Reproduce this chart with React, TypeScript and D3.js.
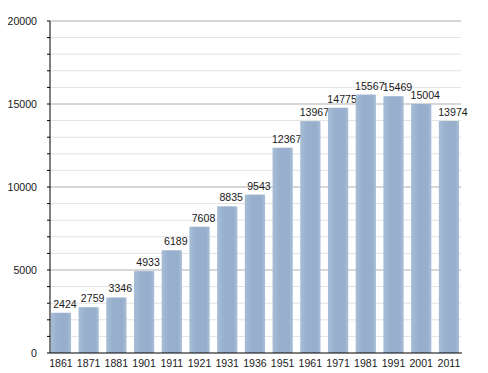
import React from "react";
import * as d3 from "d3";

const years = ["1861", "1871", "1881", "1901", "1911", "1921", "1931", "1936", "1951", "1961", "1971", "1981", "1991", "2001", "2011"];
const population = [2424, 2759, 3346, 4933, 6189, 7608, 8835, 9543, 12367, 13967, 14775, 15567, 15469, 15004, 13974];
const yTicks = [0, 5000, 10000, 15000, 20000];

const W = 488;
const H = 373;
const left = 50;
const right = 461;
const top = 21;
const bottom = 353;

const App = () => {
  const x = d3
    .scaleBand()
    .domain(years)
    .range([left, right])
    .paddingInner(0.27)
    .paddingOuter(0.05)
    .align(0.3);
  const y = d3.scaleLinear().domain([0, 20000]).range([bottom, top]);
  const minor = d3.range(0, 20001, 1000);
  const font = "'Liberation Sans', Arial, sans-serif";

  return (
    <svg width={W} height={H} style={{ position: "absolute", left: 0, top: 0 }}>
      <defs>
        <linearGradient id="barGrad" x1="0" x2="1" y1="0" y2="0">
          <stop offset="0" stopColor="#a7bdd7" />
          <stop offset="0.35" stopColor="#98b0cd" />
          <stop offset="0.8" stopColor="#97afcc" />
          <stop offset="1" stopColor="#a9bed8" />
        </linearGradient>
      </defs>
      <rect width={W} height={H} fill="#fff" />
      {/* minor grid */}
      {minor
        .filter((v) => v % 5000 !== 0)
        .map((v) => (
          <line key={"m" + v} x1={left} x2={right} y1={y(v)} y2={y(v)} stroke="#e2e2e2" />
        ))}
      {yTicks
        .filter((v) => v !== 0)
        .map((v) => (
          <line key={"g" + v} x1={left} x2={right} y1={y(v)} y2={y(v)} stroke="#b0b0b0" />
        ))}
      {/* bars */}
      {population.map((v, i) => (
        <g key={years[i]}>
          <rect
            x={x(years[i])}
            y={y(v)}
            width={x.bandwidth()}
            height={bottom - y(v)}
            fill="url(#barGrad)"
          />
          <text
            x={(x(years[i]) as number) + x.bandwidth() / 2 + 4}
            y={y(v) - 5}
            textAnchor="middle"
            fontFamily={font}
            fontSize={10.6}
            fill="#1a1a1a"
          >
            {v}
          </text>
        </g>
      ))}
      {/* axes */}
      <line x1={left} x2={left} y1={top} y2={bottom} stroke="#000" />
      <line x1={left} x2={right + 1} y1={bottom} y2={bottom} stroke="#000" />
      {minor.map((v) => (
        <line key={"t" + v} x1={left - 3} x2={left} y1={y(v)} y2={y(v)} stroke="#000" />
      ))}
      {yTicks.map((v) => (
        <text
          key={"yl" + v}
          x={37}
          y={y(v) + 4}
          textAnchor="end"
          fontFamily={font}
          fontSize={10.6}
          fill="#1a1a1a"
        >
          {v}
        </text>
      ))}
      {years.map((yr) => (
        <text
          key={"xl" + yr}
          x={(x(yr) as number) + x.bandwidth() / 2}
          y={bottom + 14}
          textAnchor="middle"
          fontFamily={font}
          fontSize={10.6}
          fill="#1a1a1a"
        >
          {yr}
        </text>
      ))}
    </svg>
  );
};

export default App;
